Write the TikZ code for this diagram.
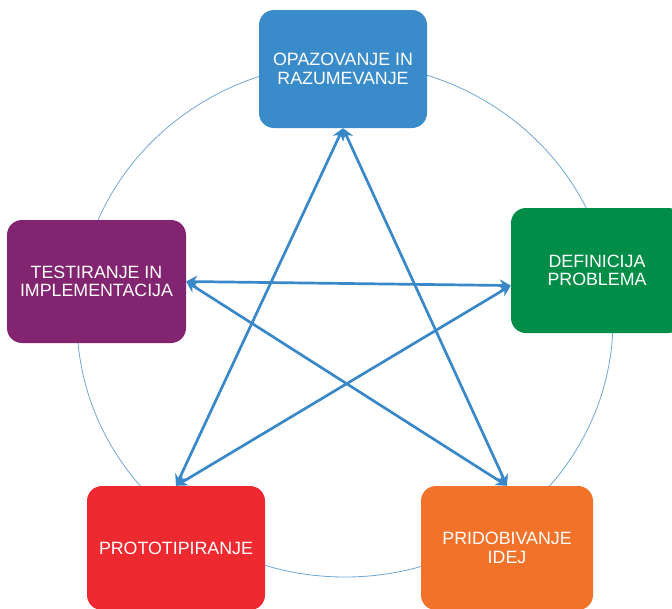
\documentclass[tikz,border=0pt]{standalone}
\usepackage{fontspec}
\setmainfont{Liberation Sans}
\usetikzlibrary{arrows.meta,calc}
\definecolor{cblue}{HTML}{3A8BC9}
\definecolor{cpurple}{HTML}{82246F}
\definecolor{cgreen}{HTML}{008D47}
\definecolor{cred}{HTML}{EE2A30}
\definecolor{corange}{HTML}{F3722A}
\definecolor{arrowc}{HTML}{3A88C8}
\definecolor{ringc}{HTML}{6FA6D8}
\begin{document}
\begin{tikzpicture}[x=1pt,y=-1pt,
  box/.style={rounded corners=15pt, text=white, align=center,
    font=\fontsize{17.8}{18.5}\selectfont, inner sep=0pt},
  link/.style={draw=arrowc, line width=2.7pt,
    {Stealth[length=11pt,width=12pt,inset=3.5pt]}-{Stealth[length=11pt,width=12pt,inset=3.5pt]}},
  ring/.style={draw=ringc, line width=0.8pt}
]
\useasboundingbox (0,0) rectangle (672,608);
\begin{scope}
\clip (0,0) rectangle (672,608);
\draw[ring] (345,320) ellipse [x radius=268, y radius=257];
\node[box, fill=cblue, minimum width=168pt, minimum height=118pt] (obs) at (343,69) {OPAZOVANJE IN\\RAZUMEVANJE};
\node[box, fill=cpurple, minimum width=179pt, minimum height=123pt] (test) at (96.5,281.5) {TESTIRANJE IN\\IMPLEMENTACIJA};
\node[box, fill=cgreen, minimum width=172pt, minimum height=125pt] (def) at (597,270.5) {DEFINICIJA\\PROBLEMA};
\node[box, fill=cred, minimum width=178pt, minimum height=124pt] (proto) at (176,548) {PROTOTIPIRANJE};
\node[box, fill=corange, minimum width=172pt, minimum height=124pt] (ideas) at (507,548) {PRIDOBIVANJE\\IDEJ};
\coordinate (defin) at ($(def.north west)!0.62!(def.south west)$);
\draw[link] (obs.south) -- (proto.north);
\draw[link] (obs.south) -- (ideas.north);
\draw[link] (test.east) -- (defin);
\draw[link] (test.east) -- (ideas.north);
\draw[link] (defin) -- (proto.north);
\end{scope}
\end{tikzpicture}
\end{document}
